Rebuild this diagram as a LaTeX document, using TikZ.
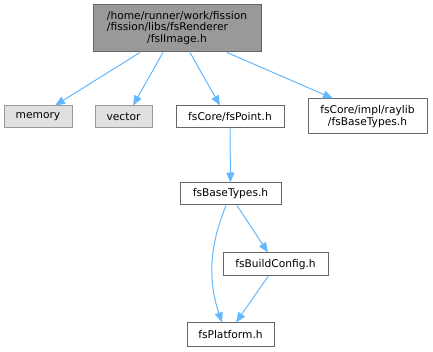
\documentclass[tikz,border=0pt]{standalone}
\usepackage{fontspec}
\setmainfont{DejaVu Sans}
\usetikzlibrary{arrows.meta}
\definecolor{edgec}{HTML}{63B8FF}
\definecolor{mainfill}{HTML}{999999}
\definecolor{darkb}{HTML}{666666}
\definecolor{sysfill}{HTML}{E0E0E0}
\definecolor{sysb}{HTML}{999999}
\begin{document}
\begin{tikzpicture}[x=0.75pt,y=-0.75pt,
  box/.style={draw=darkb,fill=white,line width=0.75pt,inner sep=0pt,font=\fontsize{8}{9}\selectfont,align=center},
  sysbox/.style={box,draw=sysb,fill=sysfill},
  mainbox/.style={box,fill=mainfill},
  edge/.style={draw=edgec,line width=0.75pt,-{Triangle[length=7.5pt,width=6pt]}}]
\useasboundingbox (0,0) rectangle (433,352);
\node[mainbox,minimum width=168*0.75pt,minimum height=47*0.75pt] (main) at (177,28.5) {\begin{tabular}{@{}l@{}}/home/runner/work/fission\\[-0.5pt]/fission/libs/fsRenderer\\[-0.5pt]\multicolumn{1}{@{}c@{}}{/fsIImage.h}\end{tabular}};
\node[sysbox,minimum width=68*0.75pt,minimum height=22*0.75pt] (memory) at (38,117) {memory};
\node[sysbox,minimum width=57*0.75pt,minimum height=22*0.75pt] (vector) at (123.5,117) {vector};
\node[box,minimum width=108*0.75pt,minimum height=22*0.75pt] (point) at (230,117) {fsCore/fsPoint.h};
\node[box,minimum width=119*0.75pt,minimum height=35*0.75pt] (raylib) at (367.5,116.5) {fsCore/impl/raylib\\/fsBaseTypes.h};
\node[box,minimum width=101*0.75pt,minimum height=22*0.75pt] (base) at (230.5,194) {fsBaseTypes.h};
\node[box,minimum width=105*0.75pt,minimum height=23*0.75pt] (build) at (275.5,264.5) {fsBuildConfig.h};
\node[box,minimum width=87*0.75pt,minimum height=24*0.75pt] (plat) at (230.5,335) {fsPlatform.h};
\draw[edge] (main.south -| 140,0) -- (memory.north -| 55,0);
\draw[edge] (main.south -| 163,0) -- (vector.north -| 133,0);
\draw[edge] (main.south -| 190,0) -- (point.north -| 220,0);
\draw[edge] (main.south -| 227,0) -- (raylib.north -| 333,0);
\draw[edge] (point) -- (base);
\draw[edge] (base.south -| 237,0) -- (build.north -| 268,0);
\draw[edge] (base.south -| 226,0) .. controls (212,240) and (206,275) .. (plat.north -| 222,0);
\draw[edge] (build.south -| 268,0) -- (plat.north -| 236,0);
\end{tikzpicture}
\end{document}
